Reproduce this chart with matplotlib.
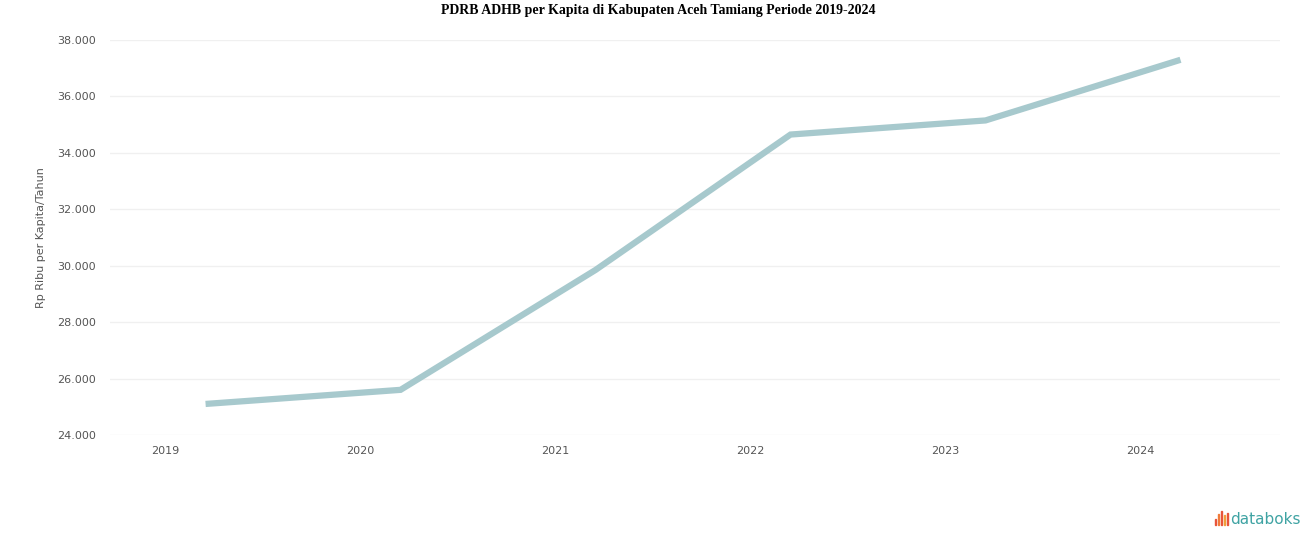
import numpy as np
import matplotlib
matplotlib.use("Agg")
import matplotlib.pyplot as plt
from matplotlib.ticker import FuncFormatter
from matplotlib.patches import Rectangle

# data (Rp ribu)
years = [2019, 2020, 2021, 2022, 2023, 2024]
pdrb_per_kapita = [25100, 25600, 29850, 34650, 35150, 37300]
y_ticks = [24000, 26000, 28000, 30000, 32000, 34000, 36000, 38000]

title = "PDRB ADHB per Kapita di Kabupaten Aceh Tamiang Periode 2019-2024"
ylabel = "Rp Ribu per Kapita/Tahun"

fig = plt.figure(figsize=(13.16, 5.47), dpi=100)
ax = fig.add_axes([0.0836, 0.2048, 0.889, 0.722])

ax.plot(years, pdrb_per_kapita, color="#a7c9cd", linewidth=4.5,
        solid_capstyle="butt", solid_joinstyle="miter")

ax.set_xlim(2018.51, 2024.51)
ax.set_ylim(24000, 38000)
ax.set_yticks(y_ticks)
ax.yaxis.set_major_formatter(FuncFormatter(lambda v, _: f"{int(v):,}".replace(",", ".")))

# year labels sit a bit left of the points in the reference
ax.set_xticks(np.array(years) - 0.205)
ax.set_xticklabels([str(y) for y in years])

ax.grid(True, axis="y", color="#f0f0f0", linewidth=1)
ax.set_axisbelow(True)
for s in ax.spines.values():
    s.set_visible(False)
ax.tick_params(axis="both", length=0, labelsize=8, colors="#555555")
ax.tick_params(axis="y", pad=10)
ax.tick_params(axis="x", pad=8)

ax.set_ylabel(ylabel, fontsize=8, color="#555555", labelpad=8)

fig.text(0.5, 0.993, title, ha="center", va="top",
         fontsize=10, fontweight="bold", family="Liberation Serif")

# databoks mark
fig.text(0.9885, 0.0495, "databoks", ha="right", va="center",
         fontsize=11, color="#3fa3a3", family="DejaVu Sans")
bars = [(0.9245, 0.012), (0.9268, 0.020), (0.9291, 0.026), (0.9314, 0.018), (0.9337, 0.022)]
cols = ["#e8553a", "#f07a3a", "#e8553a", "#f0a03a", "#e8553a"]
for (bx, bh), c in zip(bars, cols):
    fig.patches.append(Rectangle((bx - 0.0015, 0.040), 0.0011, bh, transform=fig.transFigure,
                                 color=c))

fig.savefig("out.png", dpi=100)
